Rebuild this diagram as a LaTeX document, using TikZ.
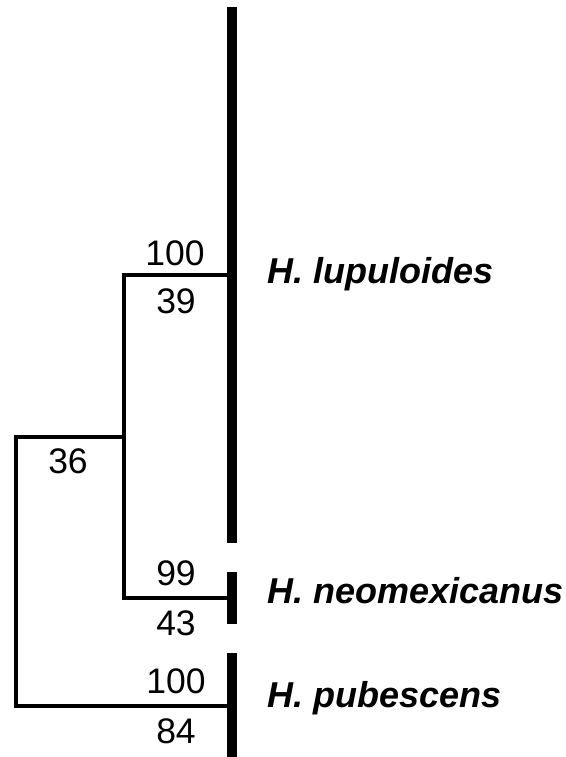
\documentclass[tikz,border=0pt]{standalone}
\usepackage{fontspec}
\setmainfont{Liberation Sans}
\usetikzlibrary{positioning}

\begin{document}
\begin{tikzpicture}[
    x=1pt,y=-1pt,
    branch/.style={line width=3.2pt,line join=miter},
    leafbar/.style={rectangle,fill=black,inner sep=0pt,minimum width=9.5pt},
    taxon/.style={anchor=base west,inner sep=0pt,font=\fontsize{36}{40}\selectfont\bfseries\itshape},
    support/.style={anchor=base,inner sep=0pt,font=\fontsize{35.5}{40}\selectfont}
]
\useasboundingbox (0,0) rectangle (565,757);

\node[leafbar,minimum height=536pt] (lupbar) at (232,275) {};
\node[leafbar,minimum height=52pt] (neobar) at (232,598) {};
\node[leafbar,minimum height=106pt] (pubbar) at (232,706) {};

\coordinate (inner) at (124,437);
\coordinate (root) at (16,437);

\draw[branch] (lupbar) -| (inner) |- (neobar);
\draw[branch] (inner) -- (root) |- (pubbar);

\node[taxon] (lup) at (267,283) {H. lupuloides};
\node[taxon] (neo) at (267,603) {H. neomexicanus};
\node[taxon] (pub) at (267,707) {H. pubescens};

\node[support] (lupA) at (175,265) {100};
\node[support] (lupB) at (176,313) {39};
\node[support] (rootA) at (68,473) {36};
\node[support] (neoA) at (176,585) {99};
\node[support] (neoB) at (176,635) {43};
\node[support] (pubA) at (176,693) {100};
\node[support] (pubB) at (176,743) {84};
\end{tikzpicture}
\end{document}
